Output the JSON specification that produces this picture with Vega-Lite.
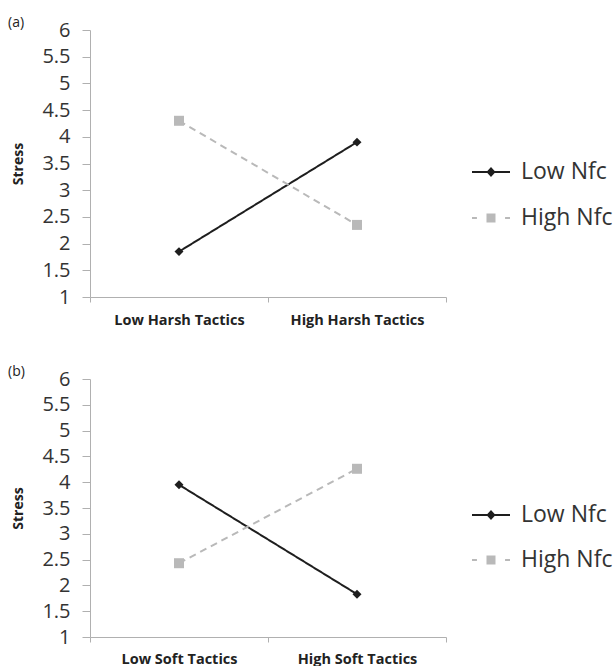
{
  "$schema": "https://vega.github.io/schema/vega-lite/v6.json",
  "padding": {"left": 8, "top": 16, "right": 0, "bottom": 0},
  "background": "white",
  "config": {
    "view": {"stroke": null},
    "font": "Open Sans",
    "axis": {"domainColor": "#b0b0b0", "tickColor": "#b0b0b0", "grid": false, "labelColor": "#333333", "titleColor": "#222222"},
    "title": {"fontSize": 14, "fontWeight": "normal", "color": "#222222", "anchor": "start", "frame": "group"}
  },
  "datasets": {
    "a": [
      {"tactic": "Low Harsh Tactics", "nfc": "Low Nfc", "stress": 1.85},
      {"tactic": "High Harsh Tactics", "nfc": "Low Nfc", "stress": 3.9},
      {"tactic": "Low Harsh Tactics", "nfc": "High Nfc", "stress": 4.3},
      {"tactic": "High Harsh Tactics", "nfc": "High Nfc", "stress": 2.35}
    ],
    "b": [
      {"tactic": "Low Soft Tactics", "nfc": "Low Nfc", "stress": 3.95},
      {"tactic": "High Soft Tactics", "nfc": "Low Nfc", "stress": 1.83},
      {"tactic": "Low Soft Tactics", "nfc": "High Nfc", "stress": 2.43},
      {"tactic": "High Soft Tactics", "nfc": "High Nfc", "stress": 4.26}
    ]
  },
  "spacing": 38,
  "resolve": {"scale": {"color": "independent", "strokeDash": "independent"}, "legend": {"color": "independent"}},
  "vconcat": [
    {
      "title": {"text": "(a)", "dx": -82, "offset": -10},
      "width": 356,
      "height": 267,
      "data": {"name": "a"},
      "encoding": {
        "x": {"field": "tactic", "type": "nominal", "sort": ["Low Harsh Tactics", "High Harsh Tactics"], "scale": {"paddingInner": 0, "paddingOuter": 0},
          "axis": {"title": null, "labelAngle": 0, "tickBand": "extent", "tickSize": 5, "labelPadding": 11, "labelFontSize": 14.5, "labelFontWeight": "bold", "labelColor": "#222222"}},
        "y": {"field": "stress", "type": "quantitative", "scale": {"domain": [1, 6], "nice": false, "zero": false},
          "axis": {"values": [1, 1.5, 2, 2.5, 3, 3.5, 4, 4.5, 5, 5.5, 6], "format": "~g", "title": "Stress", "titleFontSize": 14, "titleFontWeight": "bold", "titlePadding": 16, "tickSize": 8, "labelPadding": 12, "labelFontSize": 20}}
      },
      "layer": [
        {"mark": {"type": "line", "strokeWidth": 2},
          "encoding": {
            "color": {"field": "nfc", "type": "nominal", "scale": {"domain": ["Low Nfc", "High Nfc"], "range": ["#1e1e1e", "#b9b9b9"]},
              "legend": {"title": null, "orient": "none", "legendX": 382, "legendY": 123, "labelFontSize": 23, "labelColor": "#333333", "symbolSize": 1444, "symbolStrokeWidth": 2, "rowPadding": 15, "labelOffset": 11,
                "encode": {"symbols": {"update": {
                  "shape": {"signal": "datum.value === 'Low Nfc' ? 'M-1,-0.053L-0.191,-0.053L0,-0.26L0.191,-0.053L1,-0.053L1,0.053L0.191,0.053L0,0.26L-0.191,0.053L-1,0.053Z' : 'M-1,-0.053L-0.74,-0.053L-0.74,0L-0.237,0L-0.237,-0.237L0.237,-0.237L0.237,0L0.74,0L0.74,-0.053L1,-0.053L1,0.053L0.74,0.053L0.74,0L0.237,0L0.237,0.237L-0.237,0.237L-0.237,0L-0.74,0L-0.74,0.053L-1,0.053Z'"},
                  "fill": {"signal": "datum.value === 'Low Nfc' ? '#1e1e1e' : '#b9b9b9'"},
                  "fillOpacity": {"value": 1},
                  "strokeWidth": {"value": 0},
                  "opacity": {"value": 1}
                }}}}},
            "strokeDash": {"field": "nfc", "type": "nominal", "scale": {"domain": ["Low Nfc", "High Nfc"], "range": [[1, 0], [7, 5]]}, "legend": null}}},
        {"transform": [{"filter": "datum.nfc === 'Low Nfc'"}],
          "mark": {"type": "point", "filled": true, "opacity": 1, "shape": "diamond", "size": 80},
          "encoding": {"color": {"field": "nfc", "type": "nominal", "legend": null}}},
        {"transform": [{"filter": "datum.nfc === 'High Nfc'"}],
          "mark": {"type": "point", "filled": true, "opacity": 1, "shape": "square", "size": 100},
          "encoding": {"color": {"field": "nfc", "type": "nominal", "legend": null}}}
      ]
    },
    {
      "title": {"text": "(b)", "dx": -82, "offset": -10},
      "width": 356,
      "height": 258,
      "data": {"name": "b"},
      "encoding": {
        "x": {"field": "tactic", "type": "nominal", "sort": ["Low Soft Tactics", "High Soft Tactics"], "scale": {"paddingInner": 0, "paddingOuter": 0},
          "axis": {"title": null, "labelAngle": 0, "tickBand": "extent", "tickSize": 5, "labelPadding": 10, "labelFontSize": 14.5, "labelFontWeight": "bold", "labelColor": "#222222"}},
        "y": {"field": "stress", "type": "quantitative", "scale": {"domain": [1, 6], "nice": false, "zero": false},
          "axis": {"values": [1, 1.5, 2, 2.5, 3, 3.5, 4, 4.5, 5, 5.5, 6], "format": "~g", "title": "Stress", "titleFontSize": 14, "titleFontWeight": "bold", "titlePadding": 16, "tickSize": 8, "labelPadding": 12, "labelFontSize": 20}}
      },
      "layer": [
        {"mark": {"type": "line", "strokeWidth": 2},
          "encoding": {
            "color": {"field": "nfc", "type": "nominal", "scale": {"domain": ["Low Nfc", "High Nfc"], "range": ["#1e1e1e", "#b9b9b9"]},
              "legend": {"title": null, "orient": "none", "legendX": 382, "legendY": 117, "labelFontSize": 23, "labelColor": "#333333", "symbolSize": 1444, "symbolStrokeWidth": 2, "rowPadding": 14, "labelOffset": 11,
                "encode": {"symbols": {"update": {
                  "shape": {"signal": "datum.value === 'Low Nfc' ? 'M-1,-0.053L-0.191,-0.053L0,-0.26L0.191,-0.053L1,-0.053L1,0.053L0.191,0.053L0,0.26L-0.191,0.053L-1,0.053Z' : 'M-1,-0.053L-0.74,-0.053L-0.74,0L-0.237,0L-0.237,-0.237L0.237,-0.237L0.237,0L0.74,0L0.74,-0.053L1,-0.053L1,0.053L0.74,0.053L0.74,0L0.237,0L0.237,0.237L-0.237,0.237L-0.237,0L-0.74,0L-0.74,0.053L-1,0.053Z'"},
                  "fill": {"signal": "datum.value === 'Low Nfc' ? '#1e1e1e' : '#b9b9b9'"},
                  "fillOpacity": {"value": 1},
                  "strokeWidth": {"value": 0},
                  "opacity": {"value": 1}
                }}}}},
            "strokeDash": {"field": "nfc", "type": "nominal", "scale": {"domain": ["Low Nfc", "High Nfc"], "range": [[1, 0], [7, 5]]}, "legend": null}}},
        {"transform": [{"filter": "datum.nfc === 'Low Nfc'"}],
          "mark": {"type": "point", "filled": true, "opacity": 1, "shape": "diamond", "size": 80},
          "encoding": {"color": {"field": "nfc", "type": "nominal", "legend": null}}},
        {"transform": [{"filter": "datum.nfc === 'High Nfc'"}],
          "mark": {"type": "point", "filled": true, "opacity": 1, "shape": "square", "size": 100},
          "encoding": {"color": {"field": "nfc", "type": "nominal", "legend": null}}}
      ]
    }
  ]
}
